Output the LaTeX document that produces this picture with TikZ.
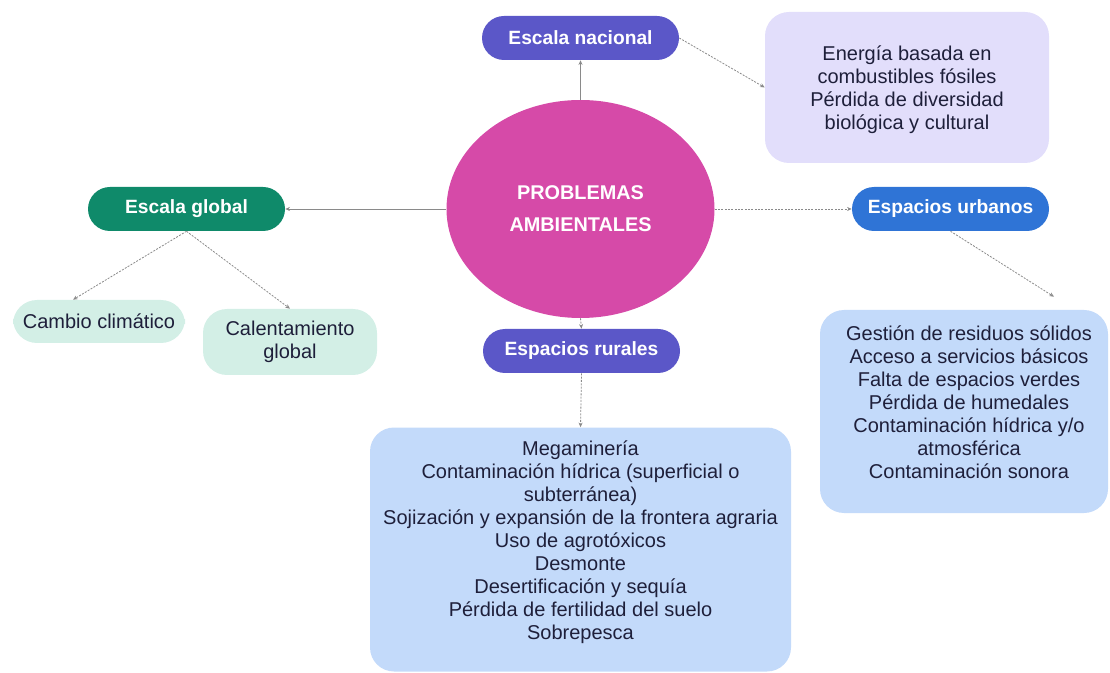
\documentclass[tikz,border=0pt]{standalone}
\usepackage{fontspec}
\setmainfont{Liberation Sans}
\usetikzlibrary{arrows.meta,positioning,shapes.geometric,calc}
\definecolor{rosecore}{HTML}{D64AA8}
\definecolor{indigo}{HTML}{5B57C8}
\definecolor{forest}{HTML}{0F8A6A}
\definecolor{azure}{HTML}{2F74D6}
\definecolor{lilac}{HTML}{E2DEFB}
\definecolor{mint}{HTML}{D3EFE6}
\definecolor{skyblue}{HTML}{C3DAFA}
\definecolor{ink}{HTML}{1E1F3A}
\definecolor{linkgray}{HTML}{8A8A8A}

\tikzset{
  pill/.style={rounded corners=16.5pt, minimum width=147.75pt, minimum height=33pt,
    inner sep=0pt, text=white, font=\fontsize{14.4}{17}\selectfont\bfseries},
  infobox/.style={rounded corners=18pt, inner sep=0pt, align=center, text=ink,
    font=\fontsize{15}{17.25}\selectfont},
  boxtext/.style={inner sep=0pt, align=center, text=ink, font=\fontsize{15}{17.25}\selectfont},
  link/.style={linkgray, line width=0.6pt, -{Stealth[length=3.5pt,width=3pt]}},
  dlink/.style={link, dash pattern=on 1.5pt off 1pt},
}

\begin{document}
\begin{tikzpicture}[x=0.75pt,y=-0.75pt]
  \useasboundingbox (0,0) rectangle (1110,673);

  % centre
  \node[ellipse, fill=rosecore, minimum width=201pt, minimum height=163.5pt,
    text=white, align=center, font=\fontsize{14.9}{24}\selectfont\bfseries]
    (core) at (580.5,209) {PROBLEMAS\\AMBIENTALES};

  % branches
  \node[pill, fill=indigo] (nac) at (580.5,38) {Escala nacional};
  \node[pill, fill=forest] (glob) at (186.5,209) {Escala global};
  \node[pill, fill=azure] (urb) at (950.5,209) {Espacios urbanos};
  \node[pill, fill=indigo] (rur) at (581.5,351) {Espacios rurales};

  % leaves
  \node[infobox, fill=lilac, minimum width=213pt, minimum height=113.25pt]
    (nacbox) at (907,87.5) {};
  \node[boxtext] (nactext) at (907,90) {Energía basada en\\combustibles fósiles\\Pérdida de diversidad\\biológica y cultural};
  \node[infobox, fill=mint, minimum width=129pt, minimum height=32.25pt]
    (cambio) at (99,321.5) {Cambio climático};
  \node[infobox, fill=mint, minimum width=130.5pt, minimum height=49.5pt]
    (calent) at (290,342) {Calentamiento\\global};
  \node[infobox, fill=skyblue, minimum width=216pt, minimum height=152.25pt]
    (urbbox) at (964,411.5) {};
  \node[boxtext] (urbtext) at (969,402) {Gestión de residuos sólidos\\Acceso a servicios básicos\\Falta de espacios verdes\\Pérdida de humedales\\Contaminación hídrica y/o\\atmosférica\\Contaminación sonora};
  \node[infobox, fill=skyblue, minimum width=315.75pt, minimum height=183pt]
    (rurbox) at (580.5,549.5) {};
  \node[boxtext] (rurtext) at (580.5,542) {Megaminería\\Contaminación hídrica (superficial o\\subterránea)\\Sojización y expansión de la frontera agraria\\Uso de agrotóxicos\\Desmonte\\Desertificación y sequía\\Pérdida de fertilidad del suelo\\Sobrepesca};

  % connectors
  \draw[link] (core.north) -- (nac.south);
  \draw[link] (core.west) -- (glob.east);
  \draw[dlink] (core.east) -- (urb.west);
  \draw[dlink] (core.south) -- (rur.north);
  \draw[dlink] (nac.east) -- (nacbox.west);
  \draw[dlink] (glob.south) -- ([xshift=-19.5pt]cambio.north);
  \draw[dlink] (glob.south) -- (calent.north);
  \draw[dlink] (urb.south) -- ([xshift=67.5pt,yshift=9.75pt]urbbox.north);
  \draw[dlink] (rur.south) -- (rurbox.north);
\end{tikzpicture}
\end{document}
